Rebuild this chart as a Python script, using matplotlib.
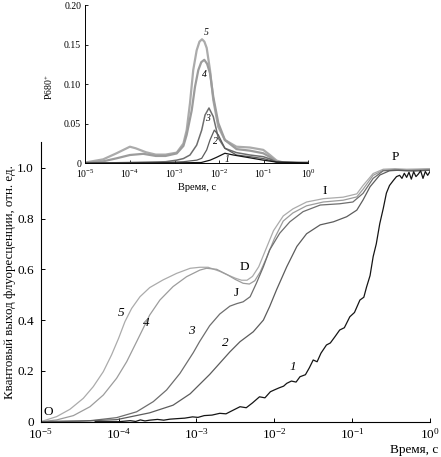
import numpy as np
import matplotlib
matplotlib.use("Agg")
import matplotlib.pyplot as plt
from matplotlib.ticker import FixedLocator, FixedFormatter, NullLocator

plt.rcParams['font.family'] = ['Liberation Serif', 'DejaVu Serif']
plt.rcParams['mathtext.fontset'] = 'custom'
plt.rcParams['mathtext.rm'] = 'Liberation Serif'
plt.rcParams['mathtext.it'] = 'Liberation Serif:italic'

# ---------------- main chart data (log10 of time in s, relative yield) ----------------
c5_exp = [-5.0, -4.97, -4.795, -4.624, -4.453, -4.325, -4.196, -4.09, -4.0, -3.918, -3.832,
          -3.725, -3.6, -3.43, -3.254, -3.08, -2.955, -2.85, -2.7, -2.6, -2.5, -2.42, -2.35,
          -2.28, -2.2, -2.12, -2.01, -1.885, -1.76, -1.585, -1.37, -1.115, -0.94, -0.86,
          -0.73, -0.6, -0.45, -0.3, 0.0]
c5_val = [0.0, 0.003, 0.02, 0.049, 0.092, 0.138, 0.197, 0.263, 0.328, 0.394, 0.446,
          0.492, 0.528, 0.558, 0.584, 0.604, 0.608, 0.608, 0.592, 0.578, 0.565, 0.557, 0.557,
          0.572, 0.61, 0.67, 0.752, 0.81, 0.838, 0.865, 0.878, 0.884, 0.897, 0.93,
          0.977, 0.994, 0.996, 0.994, 0.996]

c4_exp = [-5.0, -4.795, -4.58, -4.367, -4.196, -4.025, -3.896, -3.768, -3.683, -3.6, -3.469,
          -3.3, -3.126, -2.955, -2.87, -2.74, -2.6, -2.5, -2.4, -2.32, -2.25, -2.18, -2.1,
          -2.0, -1.885, -1.76, -1.585, -1.37, -1.115, -0.94, -0.86, -0.73, -0.6, -0.45,
          -0.3, 0.0]
c4_val = [0.0, 0.007, 0.024, 0.059, 0.105, 0.171, 0.236, 0.315, 0.368, 0.42, 0.479,
          0.532, 0.571, 0.597, 0.604, 0.6, 0.578, 0.56, 0.545, 0.542, 0.555, 0.59, 0.645,
          0.72, 0.79, 0.822, 0.85, 0.865, 0.872, 0.885, 0.915, 0.97, 0.99, 0.993,
          0.991, 0.994]

c3_exp = [-5.0, -4.367, -4.025, -3.768, -3.554, -3.383, -3.212, -3.04, -2.96, -2.83, -2.7,
          -2.57, -2.48, -2.4, -2.31, -2.23, -2.14, -2.06, -1.93, -1.8, -1.63, -1.41, -1.16,
          -0.99, -0.86, -0.73, -0.6, -0.45, -0.3, 0.0]
c3_val = [0.0, 0.004, 0.016, 0.039, 0.079, 0.125, 0.19, 0.272, 0.315, 0.378, 0.424,
          0.455, 0.465, 0.472, 0.492, 0.545, 0.61, 0.676, 0.742, 0.787, 0.827, 0.853, 0.858,
          0.865, 0.899, 0.958, 0.988, 0.99, 0.988, 0.99]

c2_exp = [-5.0, -4.5, -4.025, -3.6, -3.3, -3.08, -2.83, -2.57, -2.44, -2.27, -2.14,
          -2.06, -1.97, -1.84, -1.71, -1.585, -1.41, -1.24, -1.07, -0.94, -0.86, -0.77,
          -0.645, -0.52, -0.4, -0.2, 0.0]
c2_val = [0.0, 0.002, 0.008, 0.035, 0.065, 0.11, 0.186, 0.275, 0.315, 0.354, 0.40,
          0.453, 0.52, 0.61, 0.69, 0.74, 0.775, 0.787, 0.807, 0.833, 0.873, 0.925,
          0.971, 0.988, 0.99, 0.987, 0.99]

c1_exp = [-4.3, -4.0, -3.85, -3.78, -3.72, -3.66, -3.6, -3.5, -3.42, -3.34, -3.25, -3.15,
          -3.05, -2.98, -2.9, -2.8, -2.7, -2.62, -2.55, -2.44, -2.36, -2.28, -2.19, -2.12,
          -2.05, -2.0, -1.94, -1.88, -1.84, -1.78, -1.72, -1.67, -1.6, -1.55, -1.5, -1.45,
          -1.4, -1.33, -1.28, -1.22, -1.16, -1.1, -1.03, -0.97, -0.9, -0.85, -0.815, -0.77,
          -0.73, -0.69, -0.645, -0.6, -0.56, -0.52, -0.47, -0.43, -0.39, -0.36, -0.33,
          -0.3, -0.27, -0.24, -0.21, -0.18, -0.15, -0.12, -0.09, -0.06, -0.03, 0.0]
c1_val = [0.0, 0.0, 0.004, 0.001, 0.007, 0.003, 0.006, 0.009, 0.006, 0.01, 0.012, 0.014,
          0.019, 0.017, 0.024, 0.026, 0.033, 0.031, 0.042, 0.059, 0.055, 0.074, 0.098, 0.094,
          0.118, 0.125, 0.133, 0.14, 0.151, 0.16, 0.156, 0.177, 0.185, 0.212, 0.243, 0.236,
          0.27, 0.302, 0.31, 0.335, 0.361, 0.37, 0.413, 0.43, 0.479, 0.49, 0.53, 0.575,
          0.65, 0.70, 0.78, 0.84, 0.90, 0.93, 0.95, 0.965, 0.97, 0.958, 0.978, 0.962,
          0.982, 0.955, 0.984, 0.965, 0.975, 0.988, 0.958, 0.985, 0.97, 0.985]

# ---------------- inset data (P680+) ----------------
p5_exp = [-5.0, -4.6, -4.3, -4.0, -3.87, -3.64, -3.42, -3.2, -2.95, -2.8, -2.727, -2.653,
          -2.58, -2.503, -2.44, -2.383, -2.33, -2.278, -2.204, -2.13, -2.018, -1.87, -1.61,
          -1.31, -1.01, -0.86, -0.71, -0.56, 0.0]
p5_val = [0.001, 0.005, 0.0127, 0.021, 0.019, 0.014, 0.011, 0.011, 0.0135, 0.025, 0.042,
          0.076, 0.118, 0.143, 0.154, 0.157, 0.154, 0.146, 0.118, 0.08, 0.046, 0.0295, 0.021,
          0.02, 0.017, 0.0105, 0.0034, 0.001, 0.001]

p4_exp = [-5.0, -4.6, -4.3, -4.0, -3.7, -3.42, -3.2, -2.95, -2.8, -2.727, -2.614, -2.54,
          -2.466, -2.4, -2.332, -2.27, -2.204, -2.13, -2.018, -1.87, -1.61, -1.31, -1.01,
          -0.86, -0.71, -0.56, 0.0]
p4_val = [0.0005, 0.0025, 0.0063, 0.0105, 0.012, 0.0093, 0.0093, 0.0125, 0.022, 0.036,
          0.067, 0.097, 0.118, 0.128, 0.131, 0.126, 0.114, 0.084, 0.051, 0.0295, 0.018,
          0.016, 0.0127, 0.008, 0.002, 0.0005, 0.0005]

p3_exp = [-5.0, -4.0, -3.2, -2.95, -2.8, -2.653, -2.503, -2.39, -2.316, -2.227, -2.13,
          -2.018, -1.87, -1.61, -1.31, -1.01, -0.86, -0.71, 0.0]
p3_val = [0.0, 0.001, 0.002, 0.004, 0.006, 0.0105, 0.023, 0.042, 0.061, 0.07, 0.059,
          0.032, 0.019, 0.0135, 0.0105, 0.0084, 0.0055, 0.0015, 0.0005]

p2_exp = [-5.0, -3.5, -2.8, -2.5, -2.39, -2.278, -2.204, -2.107, -2.018, -1.87, -1.61,
          -1.31, -1.01, -0.71, 0.0]
p2_val = [0.0, 0.0005, 0.002, 0.004, 0.0063, 0.017, 0.0295, 0.042, 0.036, 0.019, 0.0105,
          0.0084, 0.006, 0.0015, 0.0005]

p1_exp = [-5.0, -3.0, -2.4, -2.2, -2.055, -1.87, -1.68, -1.38, -1.01, -0.71, 0.0]
p1_val = [0.0, 0.0005, 0.001, 0.004, 0.0076, 0.0127, 0.0105, 0.0076, 0.004, 0.0015, 0.0005]

main_yticks = [0, 0.2, 0.4, 0.6, 0.8, 1.0]
main_ytick_labels = ["0", "0.2", "0.4", "0.6", "0.8", "1.0"]
inset_yticks = [0, 0.05, 0.10, 0.15, 0.20]
inset_ytick_labels = ["0", "0.05", "0.10", "0.15", "0.20"]
xticks = [1e-5, 1e-4, 1e-3, 1e-2, 1e-1, 1e0]
xtick_labels = [r"$10^{-5}$", r"$10^{-4}$", r"$10^{-3}$", r"$10^{-2}$", r"$10^{-1}$", r"$10^{0}$"]

colors = {1: '#151515', 2: '#5c5c5c', 3: '#6e6e6e', 4: '#9c9c9c', 5: '#ababab'}

fig = plt.figure(figsize=(4.41, 4.57), dpi=100)
ax = fig.add_axes([40.7/441, 1 - 421.7/457, (430 - 40.7)/441, (421.7 - 142.3)/457])

main_series = [(c1_exp, c1_val, 1), (c2_exp, c2_val, 2), (c3_exp, c3_val, 3),
               (c4_exp, c4_val, 4), (c5_exp, c5_val, 5)]
for e, v, k in main_series[::-1]:
    ax.plot(10.0 ** np.array(e), v, color=colors[k], lw=0.9)

ax.set_xscale('log')
ax.set_xlim(1e-5, 1e0)
ax.set_ylim(0, 1.1)
for s in ['top', 'right']:
    ax.spines[s].set_visible(False)
for s in ['left', 'bottom']:
    ax.spines[s].set_linewidth(0.8)
ax.xaxis.set_major_locator(FixedLocator(xticks))
ax.xaxis.set_major_formatter(FixedFormatter(xtick_labels))
ax.xaxis.set_minor_locator(NullLocator())
ax.yaxis.set_major_locator(FixedLocator(main_yticks))
ax.yaxis.set_major_formatter(FixedFormatter(main_ytick_labels))
ax.tick_params(direction='in', length=3, width=0.7, labelsize=9.5)
ax.tick_params(axis='x', pad=3.5)
ax.tick_params(axis='y', pad=5)
ax.set_ylabel("Квантовый выход флуоресценции, отн. ед.", fontsize=9.3)
ax.yaxis.set_label_coords(-0.064, 0.5)
fig.text(438/441, 1 - 450/457, "Время, с", ha='right', va='center', fontsize=9.5)

# point labels
for txt, t, y in [("O", 1.25e-5, 0.04), ("D", 4.1e-3, 0.61), ("J", 3.3e-3, 0.505),
                  ("I", 0.044, 0.908), ("P", 0.36, 1.042)]:
    ax.text(t, y, txt, fontsize=9.5, ha='center', va='center')
for txt, t, y in [("5", 1.07e-4, 0.428), ("4", 2.3e-4, 0.389), ("3", 8.5e-4, 0.357),
                  ("2", 2.34e-3, 0.31), ("1", 0.0174, 0.215)]:
    ax.text(t, y, txt, fontsize=9.5, ha='center', va='center', style='italic')

# ---------------- inset ----------------
ax2 = fig.add_axes([85.3/441, 1 - 163.3/457, 223/441, 158/457])
ax2.patch.set_alpha(0)
inset_series = [(p1_exp, p1_val, 1, 0.9), (p2_exp, p2_val, 2, 0.9), (p3_exp, p3_val, 3, 1.1),
                (p4_exp, p4_val, 4, 1.6), (p5_exp, p5_val, 5, 1.6)]
for e, v, k, lw in inset_series[::-1]:
    ax2.plot(10.0 ** np.array(e), v, color=colors[k], lw=lw)
ax2.set_xscale('log')
ax2.set_xlim(1e-5, 1e0)
ax2.set_ylim(0, 0.2)
for s in ['top', 'right']:
    ax2.spines[s].set_visible(False)
for s in ['left', 'bottom']:
    ax2.spines[s].set_linewidth(0.7)
ax2.xaxis.set_major_locator(FixedLocator(xticks))
ax2.xaxis.set_major_formatter(FixedFormatter(xtick_labels))
ax2.xaxis.set_minor_locator(NullLocator())
ax2.yaxis.set_major_locator(FixedLocator(inset_yticks))
ax2.yaxis.set_major_formatter(FixedFormatter(inset_ytick_labels))
ax2.tick_params(direction='in', length=2.5, width=0.6, labelsize=7)
ax2.tick_params(axis='x', pad=3)
ax2.tick_params(axis='y', pad=3)
ax2.set_xlabel("Время, с", fontsize=7.5, labelpad=2)
ax2.set_ylabel("P680$^{+}$", fontsize=7)
ax2.yaxis.set_label_coords(-0.136, 0.48)
for txt, t, y in [("5", 10**-2.29, 0.166), ("4", 10**-2.32, 0.113), ("3", 10**-2.27, 0.057),
                  ("2", 10**-2.09, 0.028), ("1", 10**-1.82, 0.0054)]:
    ax2.text(t, y, txt, fontsize=7, ha='center', va='center', style='italic')

fig.savefig("out.png", dpi=100)
